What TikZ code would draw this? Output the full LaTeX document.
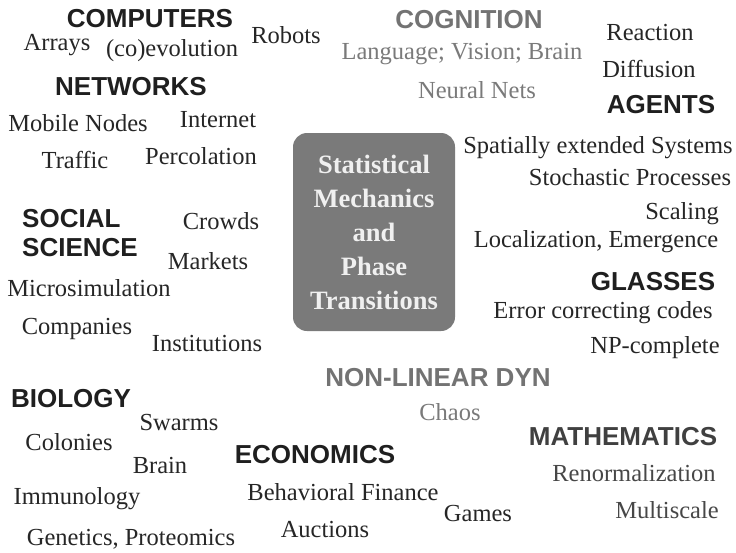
\documentclass[tikz,border=0pt]{standalone}
\usepackage{fontspec}
\setmainfont{Liberation Serif}
\newfontfamily\headfont{Liberation Sans}
\begin{document}
\begin{tikzpicture}[x=1pt,y=-1pt,
  head/.style={font=\headfont\bfseries\fontsize{26}{30}\selectfont, text=black!88, anchor=base, inner sep=0pt},
  headgray/.style={head, text=black!55},
  headmid/.style={head, text=black!75},
  topic/.style={font=\fontsize{24.5}{28}\selectfont, text=black!85, anchor=base, inner sep=0pt},
  topicgray/.style={topic, text=black!52},
  topicmid/.style={topic, text=black!72},
  core/.style={draw=none, fill=black!52, rounded corners=14pt, minimum width=162pt, minimum height=198pt,
    align=center, text=white!94!black, font=\bfseries\fontsize{26.5}{34}\selectfont}]
\useasboundingbox (0,0) rectangle (736,552);
\fill[white] (0,0) rectangle (736,552);

% central theme
\node[core] (core) at (374,232) {Statistical\\Mechanics\\and\\Phase\\Transitions};

% computers and networks
\node[head] (computers) at (150,27) {COMPUTERS};
\node[topic] (arrays) at (57,50) {Arrays};
\node[topic] (coevo) at (172,56) {(co)evolution};
\node[topic] (robots) at (286,43) {Robots};
\node[head] (networks) at (131,95) {NETWORKS};
\node[topic] (mobile) at (78,131) {Mobile Nodes};
\node[topic] (internet) at (218,127) {Internet};
\node[topic] (traffic) at (75,168) {Traffic};
\node[topic] (percol) at (201,164) {Percolation};

% cognition and agents
\node[headgray] (cognition) at (469,28) {COGNITION};
\node[topicgray] (language) at (462,59) {Language; Vision; Brain};
\node[topicgray] (neural) at (477,98) {Neural Nets};
\node[topic] (reaction) at (650,40) {Reaction};
\node[topic] (diffusion) at (649,77) {Diffusion};
\node[head] (agents) at (661,113) {AGENTS};
\node[topic] (spatial) at (598,153) {Spatially extended Systems};
\node[topic] (stoch) at (630,185) {Stochastic Processes};
\node[topic] (scaling) at (682,219) {Scaling};
\node[topic] (local) at (596,247) {Localization, Emergence};

% glasses
\node[head] (glasses) at (653,290) {GLASSES};
\node[topic] (error) at (603,318) {Error correcting codes};
\node[topic] (np) at (655,353) {NP-complete};

% social science
\node[head, anchor=base west] (social) at (22,227) {SOCIAL};
\node[head, anchor=base west] (science) at (22,256) {SCIENCE};
\node[topic] (crowds) at (221,229) {Crowds};
\node[topic] (markets) at (208,269) {Markets};
\node[topic] (micro) at (89,296) {Microsimulation};
\node[topic] (companies) at (77,334) {Companies};
\node[topic] (instit) at (207,351) {Institutions};

% non-linear dynamics
\node[headgray] (nonlin) at (438,386) {NON-LINEAR DYN};
\node[topicgray] (chaos) at (450,420) {Chaos};

% biology
\node[head] (biology) at (71,407) {BIOLOGY};
\node[topic] (swarms) at (179,430) {Swarms};
\node[topic] (colonies) at (69,450) {Colonies};
\node[topic] (brain) at (160,473) {Brain};
\node[topic] (immuno) at (77,504) {Immunology};
\node[topic] (genetics) at (131,545) {Genetics, Proteomics};

% economics
\node[head] (economics) at (315,463) {ECONOMICS};
\node[topic] (behav) at (343,500) {Behavioral Finance};
\node[topic] (auctions) at (325,537) {Auctions};
\node[topic] (games) at (478,521) {Games};

% mathematics
\node[headmid] (maths) at (623,445) {MATHEMATICS};
\node[topicmid] (renorm) at (634,481) {Renormalization};
\node[topicmid] (multi) at (667,518) {Multiscale};
\end{tikzpicture}
\end{document}
